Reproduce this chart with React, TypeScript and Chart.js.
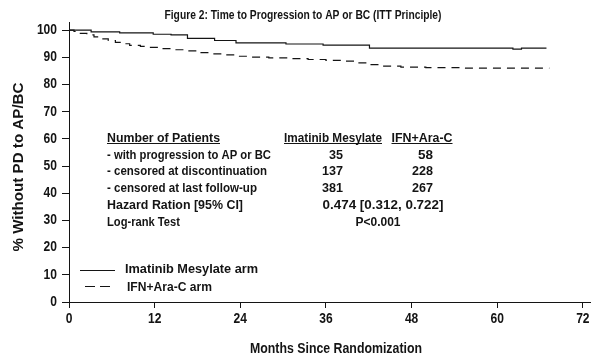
import React, { useEffect, useRef } from "react";
import { Chart, registerables } from "chart.js";

Chart.register(...registerables);

// ---- data ----
const imatinibMonths = [0, 3.1, 7.1, 11.8, 14.3, 16.6, 20.4, 23.4, 30.4, 35.6, 42.1, 62.2, 63.4, 66.9];
const imatinibSurv = [100, 99.4, 99.0, 98.5, 98.3, 97.0, 96.2, 95.3, 94.9, 94.5, 93.4, 93.0, 93.4, 93.4];

const ifnMonths = [0, 0.7, 1.5, 2.5, 3.5, 4.5, 5.5, 6.5, 7.5, 8.5, 10, 11, 12.5, 14.5, 16.5, 18.5, 20, 21.5, 23.5, 25.5, 28, 31, 33.5, 36, 38, 40, 42, 44, 46.5, 50, 55, 67.3];
const ifnSurv = [100, 99.5, 98.8, 98.3, 97.5, 96.8, 96.2, 95.5, 95.0, 94.4, 94.0, 93.7, 93.2, 92.8, 92.4, 91.7, 91.3, 90.9, 90.4, 90.1, 89.8, 89.5, 89.2, 88.9, 88.6, 88.0, 87.3, 86.8, 86.4, 86.2, 86.0, 86.0];

const xTicks = [0, 12, 24, 36, 48, 60, 72];
const yTicks = [0, 10, 20, 30, 40, 50, 60, 70, 80, 90, 100];

const titleText = "Figure 2: Time to Progression to AP or BC (ITT Principle)";
const xTitle = "Months Since Randomization";
const yTitle = "% Without PD to AP/BC";
const seriesNames = ["Imatinib Mesylate arm", "IFN+Ara-C arm"];

const tableHeader = ["Number of Patients", "Imatinib Mesylate", "IFN+Ara-C"];
const tableRowLabels = ["- with progression to AP or BC", "- censored at discontinuation", "- censored at last follow-up"];
const tableImatinib = ["35", "137", "381"];
const tableIfn = ["58", "228", "267"];
const hazardLabel = "Hazard Ration [95% CI]";
const hazardValue = "0.474 [0.312, 0.722]";
const logrankLabel = "Log-rank Test";
const logrankValue = "P<0.001";

// ---- styling / layout ----
const FONT = "'Liberation Sans', Arial, sans-serif";
const INK = "#141414";
const SQUEEZE = 0.86;
// target rendered widths (px) of the condensed text
const TEXT_WIDTHS: Record<string, number> = {
  [titleText]: 277,
  [xTitle]: 172,
  [yTitle]: 169,
  "Number of Patients": 113,
  "Imatinib Mesylate": 98,
  "IFN+Ara-C": 61,
  "- with progression to AP or BC": 164,
  "- censored at discontinuation": 160,
  "- censored at last follow-up": 150,
  "Hazard Ration [95% CI]": 136,
  "Log-rank Test": 73,
  "0.474 [0.312, 0.722]": 121,
  "P<0.001": 45,
  "Imatinib Mesylate arm": 133,
  "IFN+Ara-C arm": 85,
  "35": 14,
  "58": 15,
  "137": 21,
  "228": 21,
  "381": 21,
  "267": 21,
};

function drawText(
  ctx: CanvasRenderingContext2D,
  text: string,
  x: number,
  y: number,
  align: "left" | "center" | "right",
  size: number,
  underline = false
) {
  ctx.save();
  ctx.font = `bold ${size}px ${FONT}`;
  ctx.textBaseline = "middle";
  ctx.textAlign = "left";
  const natural = ctx.measureText(text).width;
  const target = TEXT_WIDTHS[text];
  const sx = target ? target / natural : SQUEEZE;
  const w = natural * sx;
  const x0 = align === "center" ? x - w / 2 : align === "right" ? x - w : x;
  ctx.translate(x0, y);
  ctx.scale(sx, 1);
  ctx.fillText(text, 0, 0);
  ctx.restore();
  if (underline) ctx.fillRect(x0, Math.round(y + 5), w, 1);
}

const textPlugin = {
  id: "customText",
  afterDraw(chart: any) {
    const ctx = chart.ctx as CanvasRenderingContext2D;
    ctx.save();
    ctx.fillStyle = INK;
    ctx.strokeStyle = INK;

    drawText(ctx, titleText, 303, 15, "center", 13);
    drawText(ctx, xTitle, 336, 349, "center", 15);

    ctx.save();
    ctx.translate(19, 167);
    ctx.rotate(-Math.PI / 2);
    drawText(ctx, yTitle, 0, 0, "center", 15);
    ctx.restore();

    // table
    const rowY = (i: number) => 138 + i * 16.8;
    const fs = 13.5;
    drawText(ctx, tableHeader[0], 107, rowY(0), "left", fs, true);
    drawText(ctx, tableHeader[1], 333, rowY(0), "center", fs, true);
    drawText(ctx, tableHeader[2], 422, rowY(0), "center", fs, true);
    for (let i = 0; i < tableRowLabels.length; i++) {
      drawText(ctx, tableRowLabels[i], 107, rowY(i + 1), "left", fs);
      drawText(ctx, tableImatinib[i], 343, rowY(i + 1), "right", fs);
      drawText(ctx, tableIfn[i], 433, rowY(i + 1), "right", fs);
    }
    drawText(ctx, hazardLabel, 107, rowY(4), "left", fs);
    drawText(ctx, logrankLabel, 107, rowY(5), "left", fs);
    drawText(ctx, hazardValue, 383, rowY(4), "center", fs);
    drawText(ctx, logrankValue, 378, rowY(5), "center", fs);

    // legend
    ctx.lineWidth = 1;
    ctx.beginPath();
    ctx.moveTo(80, 270.5);
    ctx.lineTo(115, 270.5);
    ctx.stroke();
    ctx.setLineDash([10, 5]);
    ctx.beginPath();
    ctx.moveTo(85, 286.5);
    ctx.lineTo(110, 286.5);
    ctx.stroke();
    ctx.setLineDash([]);
    drawText(ctx, seriesNames[0], 125, 269, "left", fs);
    drawText(ctx, seriesNames[1], 127, 287, "left", fs);

    // tick labels positioned via the chart scales
    const xs = chart.scales.x;
    const ys = chart.scales.y;
    for (const v of xTicks) {
      drawText(ctx, String(v), xs.getPixelForValue(v), 319, "center", 14);
    }
    for (const v of yTicks) {
      drawText(ctx, String(v), 57, ys.getPixelForValue(v), "right", 14);
    }

    ctx.restore();
  },
};

export default function App() {
  const ref = useRef<HTMLCanvasElement | null>(null);

  useEffect(() => {
    if (!ref.current) return;
    const chart = new Chart(ref.current, {
      type: "line",
      data: {
        datasets: [
          {
            label: seriesNames[0],
            data: imatinibMonths.map((m, i) => ({ x: m, y: imatinibSurv[i] })),
            borderColor: INK,
            borderWidth: 1.2,
            pointRadius: 0,
            stepped: true,
            fill: false,
          },
          {
            label: seriesNames[1],
            data: ifnMonths.map((m, i) => ({ x: m, y: ifnSurv[i] })),
            borderColor: INK,
            borderWidth: 1.2,
            borderDash: [8, 6],
            pointRadius: 0,
            stepped: true,
            fill: false,
          },
        ],
      },
      options: {
        animation: false,
        responsive: false,
        maintainAspectRatio: false,
        layout: { padding: { left: 0, right: 9, top: 22, bottom: 0 } },
        plugins: {
          legend: { display: false },
          title: { display: false },
          tooltip: { enabled: false },
        },
        scales: {
          x: {
            type: "linear",
            min: 0,
            max: 73,
            afterBuildTicks: (scale: any) => {
              scale.ticks = xTicks.map((v) => ({ value: v }));
            },
            afterFit: (scale: any) => {
              scale.height = 61;
            },
            grid: { drawOnChartArea: false, drawTicks: true, tickLength: 6, color: INK },
            border: { display: true, color: INK, width: 1 },
            ticks: { display: false, autoSkip: false },
          },
          y: {
            type: "linear",
            min: 0,
            max: 103,
            afterBuildTicks: (scale: any) => {
              scale.ticks = yTicks.map((v) => ({ value: v }));
            },
            afterFit: (scale: any) => {
              scale.width = 69;
            },
            grid: { drawOnChartArea: false, drawTicks: true, tickLength: 7, color: INK },
            border: { display: true, color: INK, width: 1 },
            ticks: { display: false, autoSkip: false },
          },
        },
      },
      plugins: [textPlugin],
    });
    return () => chart.destroy();
  }, []);

  return (
    <div style={{ position: "fixed", left: 0, top: 0, width: 599, height: 363, background: "#fff" }}>
      <canvas ref={ref} width={599} height={363} style={{ display: "block" }} />
    </div>
  );
}
